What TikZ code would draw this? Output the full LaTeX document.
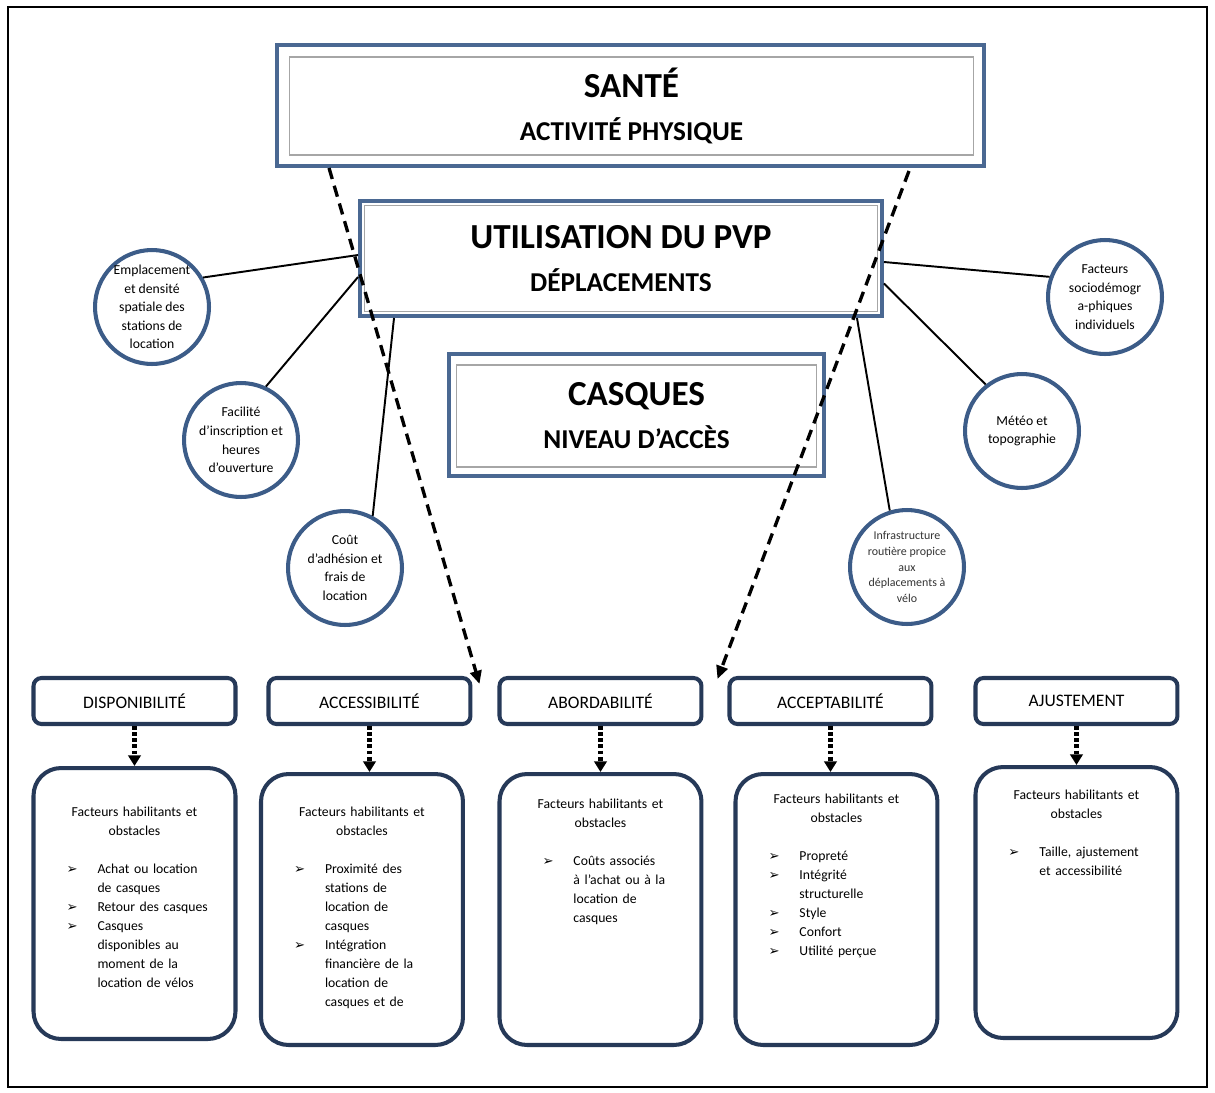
\documentclass[tikz,border=0pt]{standalone}
\usepackage{fontspec}
\setmainfont{Carlito}
\newfontfamily\symbfont{DejaVu Sans}
\usetikzlibrary{arrows.meta,positioning}
\definecolor{framecolor}{RGB}{74,104,146}
\definecolor{circlecolor}{RGB}{60,92,136}
\definecolor{boxcolor}{RGB}{38,57,88}
\newlength{\puceind}\setlength{\puceind}{0.44cm}
\newcommand{\fleche}{{\symbfont\fontsize{7.5}{7.5}\selectfont ➢}}
\newcommand{\puce}[1]{\par\leftskip=\dimexpr\puceind+0.62cm\relax\noindent\llap{\makebox[0.62cm][l]{\fleche}}#1\par}
\newcommand{\facteurs}{{\centering Facteurs habilitants et\\obstacles\par}\vspace{0.38cm}}

\begin{document}
\begin{tikzpicture}[
    x=0.02cm, y=-0.02cm,
    titleframe/.style={draw=framecolor, line width=2.3pt, fill=white},
    titleinner/.style={draw=gray!70, line width=0.6pt, align=center, font=\fontsize{15.5}{24.4}\selectfont\bfseries},
    factorcircle/.style={circle, draw=circlecolor, line width=2.3pt, fill=white, minimum size=2.28cm, inner sep=0pt, align=center, font=\fontsize{7.8}{10.6}\selectfont},
    headblock/.style={rectangle, draw=boxcolor, line width=2.3pt, rounded corners=0.16cm, fill=white, minimum width=4.04cm, minimum height=0.92cm, font=\fontsize{10}{12}\selectfont},
    bigblock/.style={rectangle, draw=boxcolor, line width=2.3pt, rounded corners=0.55cm, fill=white, minimum width=4.04cm, minimum height=5.42cm},
    facts/.style={inner sep=0pt, text width=3.6cm, align=left, font=\fontsize{7.8}{10.77}\selectfont},
    link/.style={line width=1.1pt},
    dashedarrow/.style={line width=1.9pt, dash pattern=on 6.5pt off 4pt, -{Triangle[length=7.5pt,width=6.5pt]}},
    dottedarrow/.style={line width=2.6pt, dash pattern=on 2.2pt off 1.3pt, -{Triangle[length=6pt,width=7pt]}}
]
\useasboundingbox (0,0) rectangle (1215,1093);
\draw[line width=1.3pt] (8,7) rectangle (1207,1087);

% Title boxes
\node[titleframe, minimum width=14.14cm, minimum height=2.42cm] (santeOut) at (630.5,105.5) {};
\node[titleinner, minimum width=13.7cm, minimum height=1.96cm] (sante) at (631.5,106) {{\fontsize{20}{24.4}\selectfont SANTÉ}\\ACTIVITÉ PHYSIQUE};

\node[titleframe, minimum width=10.44cm, minimum height=2.3cm] (utilOut) at (621,258.5) {};
\node[titleinner, minimum width=10.28cm, minimum height=2.12cm] (util) at (621,258.5) {{\fontsize{20}{24.4}\selectfont UTILISATION DU PVP}\\DÉPLACEMENTS};

\node[titleframe, minimum width=7.5cm, minimum height=2.44cm] (casqOut) at (636.5,415) {};
\node[titleinner, minimum width=7.22cm, minimum height=2.04cm] (casq) at (636.5,416) {{\fontsize{20}{24.4}\selectfont CASQUES}\\NIVEAU D’ACCÈS};

% Factor circles
\node[factorcircle] (c1) at (152,307) {Emplacement\\et densité\\spatiale des\\stations de\\location};
\node[factorcircle] (c2) at (241,440) {Facilité\\d’inscription et\\heures\\d’ouverture};
\node[factorcircle] (c3) at (345,568) {Coût\\d’adhésion et\\frais de\\location};
\node[factorcircle] (c4) at (1105,297) {Facteurs\\sociodémogr\\a-phiques\\individuels};
\node[factorcircle] (c5) at (1022,431) {Météo et\\topographie};
\node[factorcircle, font=\fontsize{6.8}{9}\selectfont, text=black!80] (c6) at (907,567) {Infrastructure\\routière propice\\aux\\déplacements à\\vélo};

\draw[link] (c1.30) -- ([yshift=0.07cm]utilOut.west);
\draw[link] (c2.65) -- ([yshift=-0.37cm]utilOut.west);
\draw[link] (c3.62) -- ([xshift=0.72cm]utilOut.south west);
\draw[link] (c4.160) -- ([yshift=-0.07cm]utilOut.east);
\draw[link] (c5.128) -- ([yshift=-0.5cm]utilOut.east);
\draw[link] (c6.107) -- ([xshift=-0.54cm]utilOut.south east);

% Dimension headers
\node[headblock] (h1) at (134.5,701) {DISPONIBILITÉ};
\node[headblock, right=0.58cm of h1] (h2) {ACCESSIBILITÉ};
\node[headblock, right=0.5cm of h2] (h3) {ABORDABILITÉ};
\node[headblock, right=0.48cm of h3] (h4) {ACCEPTABILITÉ};
\node[headblock, right=0.8cm of h4] (h5) {AJUSTEMENT};

% Factor boxes
\node[bigblock, below=0.8cm of h1] (b1) {};
\node[bigblock, below=0.92cm of h2, xshift=-0.15cm] (b2) {};
\node[bigblock, below=0.92cm of h3] (b3) {};
\node[bigblock, below=0.92cm of h4, xshift=0.12cm] (b4) {};
\node[bigblock, below=0.78cm of h5] (b5) {};

\node[facts, below=0.82cm of b1.north] (t1) {\facteurs
  \puce{Achat ou location\\de casques}
  \puce{Retour des casques}
  \puce{Casques\\disponibles au\\moment de la\\location de vélos}};
\node[facts, below=0.7cm of b2.north] (t2) {\facteurs
  \puce{Proximité des\\stations de\\location de\\casques}
  \puce{Intégration\\financière de la\\location de\\casques et de}};
\node[facts, below=0.54cm of b3.north] (t3) {\setlength{\puceind}{0.64cm}\facteurs
  \puce{Coûts associés\\à l’achat ou à la\\location de\\casques}};
\node[facts, below=0.44cm of b4.north] (t4) {\facteurs
  \puce{Propreté}
  \puce{Intégrité\\structurelle}
  \puce{Style}
  \puce{Confort}
  \puce{Utilité perçue}};
\node[facts, below=0.5cm of b5.north] (t5) {\facteurs
  \puce{Taille, ajustement\\et accessibilité}};

% Dotted arrows
\foreach \i in {1,...,5}
  \draw[dottedarrow] (h\i.south) -- (h\i.south |- b\i.north);

% Dashed arrows
\draw[dashedarrow] ([xshift=1.08cm]santeOut.south west) -- ([xshift=-0.36cm,yshift=-0.16cm]h3.north west);
\draw[dashedarrow] ([xshift=-1.54cm,yshift=-0.06cm]santeOut.south east) -- ([xshift=0.28cm,yshift=-0.06cm]h3.north east);

\end{tikzpicture}
\end{document}
